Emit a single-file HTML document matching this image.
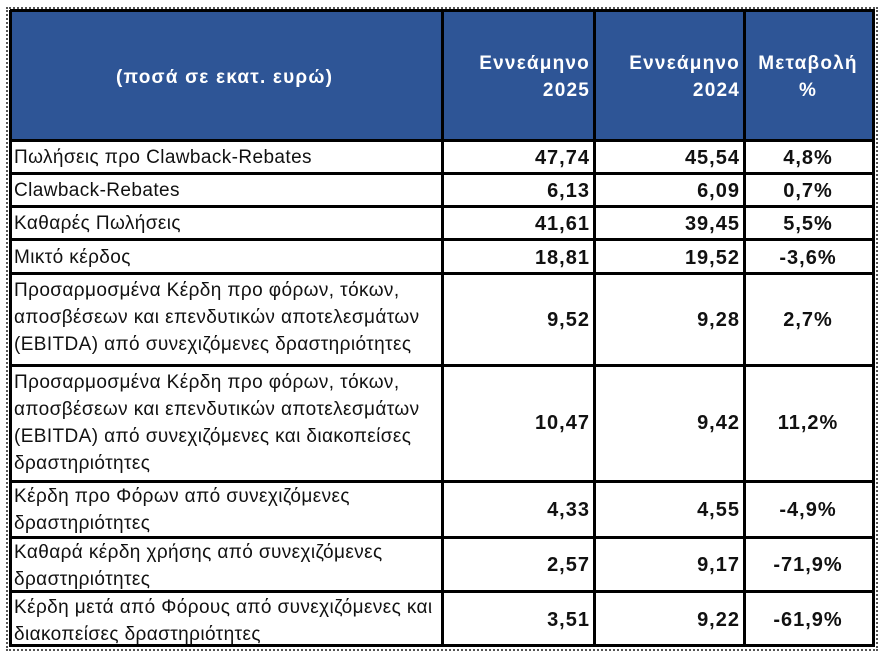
<!DOCTYPE html>
<html><head><meta charset="utf-8"><style>
body{margin:0;width:885px;height:660px;background:#fff;position:relative;overflow:hidden;font-family:"Liberation Sans","DejaVu Sans",sans-serif;}
.frame{position:absolute;left:6px;top:7px;width:872px;height:644px;border:2px dotted #555;box-sizing:border-box;}
.hdr{position:absolute;left:11px;top:11px;width:862px;height:130px;background:#2E5596;}
.h{position:absolute;background:#000;height:3px;left:10px;width:865px;}
.v{position:absolute;background:#000;width:3px;top:10px;height:637px;}
.t{position:absolute;font-size:19px;letter-spacing:0.4px;color:#111;line-height:27px;white-space:nowrap;}
.w{color:#fff;font-weight:bold;font-size:19px;letter-spacing:1.2px;}
.n{position:absolute;font-size:20px;letter-spacing:1px;font-weight:bold;color:#111;text-align:right;width:140px;}
.p{position:absolute;font-size:20px;letter-spacing:1px;font-weight:bold;color:#111;text-align:center;width:126px;left:745px;}
</style></head><body>
<div class="frame"></div>
<div class="hdr"></div>
<div class="h" style="top:9px"></div>
<div class="h" style="top:139px"></div>
<div class="h" style="top:172px"></div>
<div class="h" style="top:205px"></div>
<div class="h" style="top:238px"></div>
<div class="h" style="top:272px"></div>
<div class="h" style="top:364px"></div>
<div class="h" style="top:480px"></div>
<div class="h" style="top:536px"></div>
<div class="h" style="top:590px"></div>
<div class="h" style="top:644px"></div>
<div class="v" style="left:9px"></div>
<div class="v" style="left:441px"></div>
<div class="v" style="left:593px"></div>
<div class="v" style="left:743px"></div>
<div class="v" style="left:872px"></div>

<div class="t w" style="left:116px;top:64px">(ποσά σε εκατ. ευρώ)</div>
<div class="t w" style="left:440px;width:150px;text-align:right;top:50px">Εννεάμηνο<br>2025</div>
<div class="t w" style="left:590px;width:150px;text-align:right;top:50px">Εννεάμηνο<br>2024</div>
<div class="t w" style="left:745px;width:126px;text-align:center;top:50px">Μεταβολή<br>%</div>

<div class="t" style="left:14px;top:144px">Πωλήσεις προ Clawback-Rebates</div>
<div class="t" style="left:14px;top:177px">Clawback-Rebates</div>
<div class="t" style="left:14px;top:210px">Καθαρές Πωλήσεις</div>
<div class="t" style="left:14px;top:244px">Μικτό κέρδος</div>
<div class="t" style="left:14px;top:277px">Προσαρμοσμένα Κέρδη προ φόρων, τόκων,<br>αποσβέσεων και επενδυτικών αποτελεσμάτων<br>(EBITDA) από συνεχιζόμενες δραστηριότητες</div>
<div class="t" style="left:14px;top:369px">Προσαρμοσμένα Κέρδη προ φόρων, τόκων,<br>αποσβέσεων και επενδυτικών αποτελεσμάτων<br>(EBITDA) από συνεχιζόμενες και διακοπείσες<br>δραστηριότητες</div>
<div class="t" style="left:14px;top:483px">Κέρδη προ Φόρων από συνεχιζόμενες<br>δραστηριότητες</div>
<div class="t" style="left:14px;top:539px">Καθαρά κέρδη χρήσης από συνεχιζόμενες<br>δραστηριότητες</div>
<div class="t" style="left:14px;top:594px">Κέρδη μετά από Φόρους από συνεχιζόμενες και<br>διακοπείσες δραστηριότητες</div>

<div class="n" style="left:450px;top:147px">47,74</div><div class="n" style="left:600px;top:147px">45,54</div><div class="p" style="top:147px">4,8%</div>
<div class="n" style="left:450px;top:180px">6,13</div><div class="n" style="left:600px;top:180px">6,09</div><div class="p" style="top:180px">0,7%</div>
<div class="n" style="left:450px;top:213px">41,61</div><div class="n" style="left:600px;top:213px">39,45</div><div class="p" style="top:213px">5,5%</div>
<div class="n" style="left:450px;top:247px">18,81</div><div class="n" style="left:600px;top:247px">19,52</div><div class="p" style="top:247px">-3,6%</div>
<div class="n" style="left:450px;top:309px">9,52</div><div class="n" style="left:600px;top:309px">9,28</div><div class="p" style="top:309px">2,7%</div>
<div class="n" style="left:450px;top:412px">10,47</div><div class="n" style="left:600px;top:412px">9,42</div><div class="p" style="top:412px">11,2%</div>
<div class="n" style="left:450px;top:499px">4,33</div><div class="n" style="left:600px;top:499px">4,55</div><div class="p" style="top:499px">-4,9%</div>
<div class="n" style="left:450px;top:554px">2,57</div><div class="n" style="left:600px;top:554px">9,17</div><div class="p" style="top:554px">-71,9%</div>
<div class="n" style="left:450px;top:609px">3,51</div><div class="n" style="left:600px;top:609px">9,22</div><div class="p" style="top:609px">-61,9%</div>
</body></html>
